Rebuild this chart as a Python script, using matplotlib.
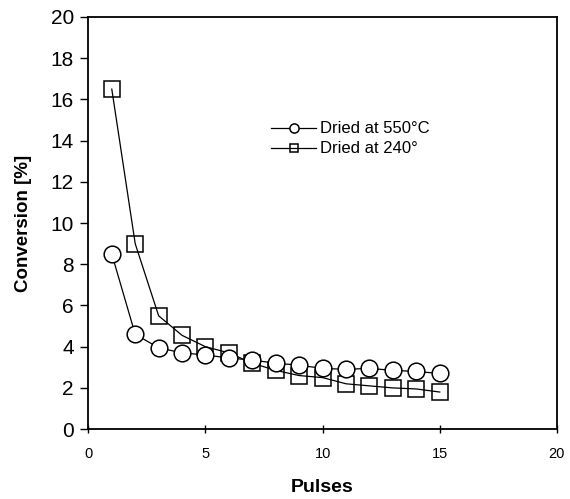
import matplotlib
matplotlib.use("Agg")
import matplotlib.pyplot as plt

plt.rcParams['font.family'] = ['Liberation Sans', 'DejaVu Sans']

pulses = list(range(1, 16))
conv_550 = [8.5, 4.6, 3.95, 3.7, 3.6, 3.45, 3.35, 3.2, 3.1, 2.95, 2.9, 2.95, 2.85, 2.8, 2.7]
conv_240 = [16.5, 9.0, 5.5, 4.55, 4.0, 3.7, 3.2, 2.85, 2.6, 2.5, 2.2, 2.1, 2.0, 1.95, 1.8]

x_ticks = [0, 5, 10, 15, 20]
y_ticks = list(range(0, 21, 2))

fig = plt.figure(figsize=(5.70, 4.99), dpi=100)
ax = fig.add_axes([0.155, 0.140, 0.822, 0.826])

ax.plot(pulses, conv_240, color='black', lw=0.9, marker='s', ms=11.5,
        mfc='none', mec='black', mew=1.1, zorder=2, label='Dried at 240°')
ax.plot(pulses, conv_550, color='black', lw=0.9, marker='o', ms=12,
        mfc='white', mec='black', mew=1.1, zorder=3, label='Dried at 550°C')

ax.set_xlim(0, 20)
ax.set_ylim(0, 20)
ax.set_xticks(x_ticks)
ax.set_yticks(y_ticks)
ax.tick_params(axis='x', direction='inout', length=6, width=1, labelsize=10.5, pad=10)
ax.tick_params(axis='y', direction='out', length=5.5, width=1, labelsize=15, pad=5)
for s in ax.spines.values():
    s.set_linewidth(1.3)

ax.set_xlabel('Pulses', fontsize=14, fontweight='bold')
ax.xaxis.set_label_coords(0.5, -0.122)
ax.set_ylabel('Conversion [%]', fontsize=13.5, fontweight='bold')
ax.yaxis.set_label_coords(-0.12, 0.5)

handles, labels = ax.get_legend_handles_labels()
ax.legend(handles[::-1], labels[::-1], loc='upper left', bbox_to_anchor=(0.373, 0.767),
          frameon=False, fontsize=12, markerscale=0.55, handlelength=2.7,
          handletextpad=0.2, labelspacing=0.3, borderpad=0)

fig.savefig('out.png', dpi=100)
